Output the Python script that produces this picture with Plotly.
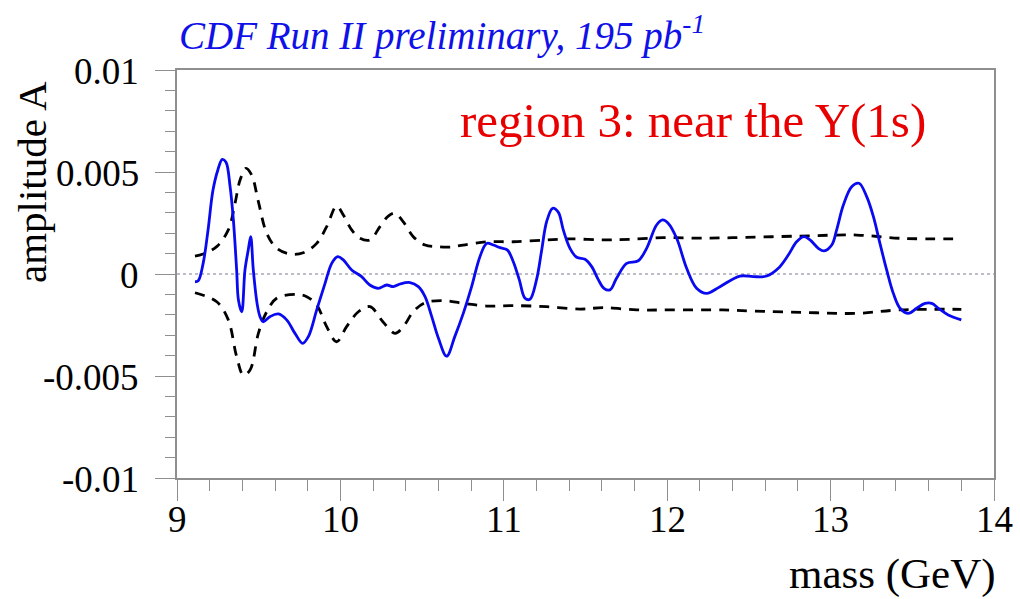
import plotly.graph_objects as go

# Blue amplitude curve
mass = [9.110, 9.130, 9.160, 9.190, 9.220, 9.250, 9.277, 9.300, 9.325, 9.345, 9.365, 9.376,
        9.396, 9.416, 9.436, 9.451, 9.467, 9.490, 9.508, 9.528, 9.569, 9.620, 9.671, 9.722,
        9.769, 9.804, 9.855, 9.906, 9.947, 9.983, 10.018, 10.069, 10.130, 10.180, 10.232,
        10.283, 10.324, 10.365, 10.426, 10.477, 10.518, 10.559, 10.600, 10.650, 10.700,
        10.752, 10.803, 10.854, 10.895, 10.936, 10.977, 11.021, 11.058, 11.095, 11.130,
        11.160, 11.200, 11.232, 11.262, 11.299, 11.334, 11.364, 11.405, 11.446, 11.497,
        11.538, 11.579, 11.613, 11.650, 11.690, 11.752, 11.823, 11.874, 11.935, 11.972,
        12.007, 12.058, 12.119, 12.180, 12.242, 12.323, 12.445, 12.527, 12.609, 12.680,
        12.741, 12.792, 12.837, 12.874, 12.925, 12.960, 13.007, 13.037, 13.078, 13.129,
        13.174, 13.221, 13.262, 13.302, 13.343, 13.384, 13.425, 13.476, 13.527, 13.578,
        13.619, 13.660, 13.720, 13.800]
amp = [-0.00038, -0.00033, 0.00052, 0.00216, 0.00410, 0.00510, 0.00562, 0.00548, 0.00428,
       0.00265, 0.00020, -0.00127, -0.00185, 0.00020, 0.00118, 0.00183, 0.00020, -0.00144,
       -0.00209, -0.00234, -0.00209, -0.00196, -0.00225, -0.00291, -0.00340, -0.00307,
       -0.00176, -0.00046, 0.00052, 0.00085, 0.00069, 0.00020, -0.00013, -0.00054,
       -0.00070, -0.00054, -0.00062, -0.00049, -0.00042, -0.00062, -0.00111, -0.00209,
       -0.00315, -0.00403, -0.00307, -0.00193, -0.00062, 0.00085, 0.00150, 0.00142,
       0.00129, 0.00118, 0.00060, -0.00029, -0.00119, -0.00124, -0.00029, 0.00118,
       0.00256, 0.00322, 0.00302, 0.00216, 0.00126, 0.00082, 0.00072, 0.00036, -0.00029,
       -0.00070, -0.00078, -0.00021, 0.00052, 0.00065, 0.00126, 0.00240, 0.00265, 0.00248,
       0.00175, 0.00028, -0.00070, -0.00095, -0.00062, -0.00010, -0.00013, -0.00010,
       0.00028, 0.00093, 0.00158, 0.00183, 0.00167, 0.00126, 0.00113, 0.00142, 0.00216,
       0.00338, 0.00428, 0.00445, 0.00379, 0.00281, 0.00150, 0.00020, -0.00095, -0.00168,
       -0.00193, -0.00168, -0.00144, -0.00144, -0.00168, -0.00201, -0.00225]

# Upper dashed band
up_mass = [9.110, 9.160, 9.243, 9.314, 9.355, 9.386, 9.422, 9.457, 9.498, 9.549, 9.610,
           9.692, 9.773, 9.855, 9.916, 9.977, 10.018, 10.069, 10.120, 10.181, 10.242,
           10.293, 10.334, 10.385, 10.446, 10.518, 10.589, 10.671, 10.752, 10.895, 11.058,
           11.262, 11.405, 11.609, 11.772, 11.976, 12.180, 12.400, 12.810, 13.160, 13.425,
           13.800]
up_amp = [0.00088, 0.00098, 0.00134, 0.00216, 0.00346, 0.00461, 0.00518, 0.00485, 0.00355,
          0.00200, 0.00126, 0.00098, 0.00104, 0.00150, 0.00232, 0.00333, 0.00289, 0.00216,
          0.00175, 0.00167, 0.00232, 0.00284, 0.00298, 0.00256, 0.00183, 0.00142, 0.00134,
          0.00132, 0.00142, 0.00158, 0.00158, 0.00167, 0.00172, 0.00167, 0.00170, 0.00178,
          0.00176, 0.00178, 0.00186, 0.00191, 0.00175, 0.00172]

# Lower dashed band
lo_mass = [9.110, 9.243, 9.314, 9.365, 9.406, 9.447, 9.498, 9.549, 9.610, 9.733, 9.794,
           9.855, 9.916, 9.977, 10.038, 10.110, 10.181, 10.260, 10.334, 10.385, 10.446,
           10.518, 10.630, 10.752, 10.895, 11.058, 11.262, 11.466, 11.609, 11.813, 12.017,
           12.340, 12.500, 12.910, 13.160, 13.425, 13.800]
lo_amp = [-0.00092, -0.00136, -0.00225, -0.00405, -0.00495, -0.00471, -0.00291, -0.00185,
          -0.00119, -0.00100, -0.00111, -0.00152, -0.00258, -0.00332, -0.00258, -0.00185,
          -0.00160, -0.00234, -0.00291, -0.00258, -0.00185, -0.00141, -0.00131, -0.00144,
          -0.00157, -0.00155, -0.00160, -0.00172, -0.00165, -0.00176, -0.00176, -0.00176,
          -0.00181, -0.00190, -0.00193, -0.00176, -0.00173]

zero_x = [9, 14]
zero_y = [0, 0]

x_ticks = [9, 10, 11, 12, 13, 14]
x_ticktext = ["9", "10", "11", "12", "13", "14"]
y_ticks = [0.01, 0.005, 0, -0.005, -0.01]
y_ticktext = ["0.01", "0.005", "0", "-0.005", "-0.01"]

SERIF = "Liberation Serif"
AXCOL = "#8f8f8f"

fig = go.Figure()
fig.add_trace(go.Scatter(x=zero_x, y=zero_y, mode="lines",
                         line=dict(color="#a8a8b8", width=1.5, dash="dot")))
fig.add_trace(go.Scatter(x=up_mass, y=up_amp, mode="lines", line_shape="spline",
                         line=dict(color="black", width=2.8, dash="10px,8px")))
fig.add_trace(go.Scatter(x=lo_mass, y=lo_amp, mode="lines", line_shape="spline",
                         line=dict(color="black", width=2.8, dash="10px,8px")))
fig.add_trace(go.Scatter(x=mass, y=amp, mode="lines", line_shape="spline",
                         line=dict(color="#0a0af0", width=2.8)))

fig.update_layout(
    width=1020, height=599,
    margin=dict(l=177, r=26, t=70, b=121),
    paper_bgcolor="white", plot_bgcolor="white",
    showlegend=False,
    font=dict(family=SERIF, color="black"),
    xaxis=dict(range=[9, 14], tickvals=x_ticks,
               ticks="outside", ticklen=21, tickwidth=1, tickcolor=AXCOL,
               showticklabels=False,
               showline=True, linecolor=AXCOL, linewidth=1.5, mirror=True,
               showgrid=False, zeroline=False,
               minor=dict(dtick=0.2, ticks="outside", ticklen=11, tickcolor=AXCOL, showgrid=False)),
    yaxis=dict(range=[-0.01, 0.01], tickvals=y_ticks,
               ticks="outside", ticklen=20, tickwidth=1, tickcolor=AXCOL,
               showticklabels=False,
               showline=True, linecolor=AXCOL, linewidth=1.5, mirror=True,
               showgrid=False, zeroline=False,
               minor=dict(dtick=0.001, ticks="outside", ticklen=10, tickcolor=AXCOL, showgrid=False)),
)

# tick labels placed through the axis scales
for v, t in zip(x_ticks, x_ticktext):
    fig.add_annotation(text=t, x=v, xref="x", y=0, yref="paper", xanchor="center",
                       yanchor="top", yshift=-19, showarrow=False,
                       font=dict(family=SERIF, size=37, color="black"))
for v, t in zip(y_ticks, y_ticktext):
    fig.add_annotation(text=t, x=0, xref="paper", y=v, yref="y", xanchor="right",
                       yanchor="middle", xshift=-36, yshift=-1, showarrow=False,
                       font=dict(family=SERIF, size=37, color="black"))

fig.add_annotation(text="<i>CDF Run II preliminary, 195 pb<sup>-1</sup></i>", xref="paper", yref="paper",
                   x=0.0, y=1.0, xanchor="left", yanchor="bottom", yshift=10, showarrow=False,
                   font=dict(family=SERIF, size=39, color="#1010e8"))
fig.add_annotation(text="region 3: near the Y(1s)", xref="paper", yref="paper",
                   x=0.632, y=0.877, xanchor="center", yanchor="middle", showarrow=False,
                   font=dict(family=SERIF, size=49, color="#e80000"))
fig.add_annotation(text="mass (GeV)", xref="paper", yref="paper",
                   x=1.0, y=0, xanchor="right", yanchor="top", xshift=4, yshift=-70, showarrow=False,
                   font=dict(family=SERIF, size=43, color="black"))
fig.add_annotation(text="amplitude A", xref="paper", yref="paper",
                   x=0, y=(478 - 182) / 408, xanchor="center", yanchor="middle", xshift=-145,
                   showarrow=False, textangle=-90,
                   font=dict(family=SERIF, size=41, color="black"))

fig.write_html("out.html")
